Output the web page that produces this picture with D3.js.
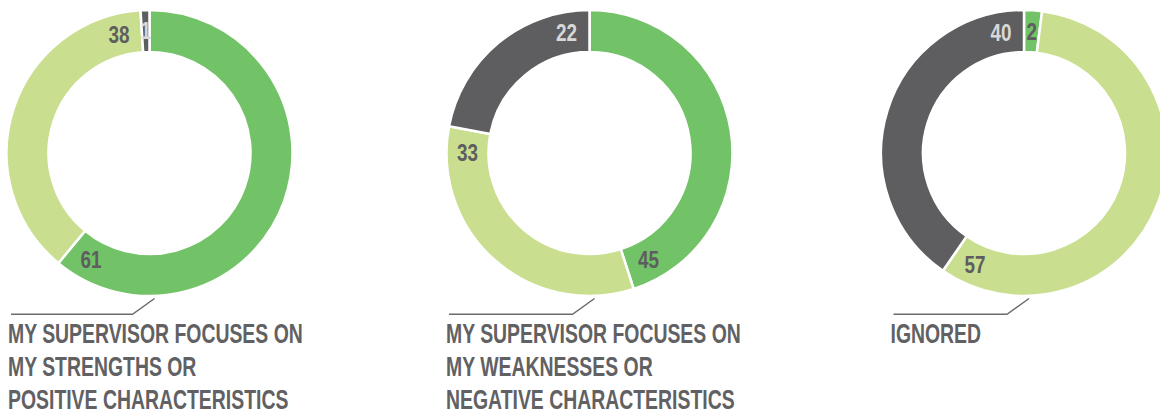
<!DOCTYPE html>
<html>
<head>
<meta charset="utf-8">
<script src="https://cdn.jsdelivr.net/npm/d3@7"></script>
<style>
  html, body { margin: 0; padding: 0; background: #fff; }
  svg { display: block; }
  text { font-family: "Liberation Sans", Arial, sans-serif; font-weight: bold; }
</style>
</head>
<body>
<svg width="1160" height="411"></svg>
<script>
// data
const categories = ['Strengths', 'Neutral', 'Weaknesses'];
const colors = ['#72c267', '#c9df8f', '#5e5e60'];
const strengthsValues = [61, 38, 1];
const weaknessesValues = [45, 33, 22];
const ignoredValues = [2, 57, 40];
const titles = [
  ['MY SUPERVISOR FOCUSES ON', 'MY STRENGTHS OR', 'POSITIVE CHARACTERISTICS'],
  ['MY SUPERVISOR FOCUSES ON', 'MY WEAKNESSES OR', 'NEGATIVE CHARACTERISTICS'],
  ['IGNORED']
];

const svg = d3.select('svg');
const panels = [
  { values: strengthsValues, title: titles[0], cx: 149.5, tx: 8 },
  { values: weaknessesValues, title: titles[1], cx: 589.5, tx: 446 },
  { values: ignoredValues, title: titles[2], cx: 1024, tx: 890.5 }
];
const cy = 153;
const outerR = 143;
const innerR = 101;
const labelR = 122;

const pie = d3.pie().sort(null).value((d) => d);
const arc = d3.arc().innerRadius(innerR).outerRadius(outerR);

// squash a regular bold face into a condensed look
function squeeze(str, size, target) {
  const probe = svg.append('text').attr('font-size', size).text(str);
  const w = probe.node().getComputedTextLength();
  probe.remove();
  return target / w;
}
const sx = squeeze(titles[0][0], 27, 295);
const lx = squeeze('38', 23, 21);

panels.forEach((p) => {
  const g = svg.append('g').attr('transform', `translate(${p.cx},${cy})`);
  const arcs = pie(p.values);

  g.selectAll('path')
    .data(arcs)
    .join('path')
    .attr('d', arc)
    .attr('fill', (d, i) => colors[i])
    .attr('stroke', '#fff')
    .attr('stroke-width', 2.5);

  g.selectAll('text')
    .data(arcs)
    .join('text')
    .attr('transform', (d) => {
      const a = d.endAngle - d.startAngle > 0.35 ? d.endAngle - 0.19 : (d.startAngle + d.endAngle) / 2;
      const x = labelR * Math.sin(a);
      const y = -labelR * Math.cos(a);
      return `translate(${x},${y}) scale(${lx},1)`;
    })
    .attr('text-anchor', 'middle')
    .attr('dy', '0.36em')
    .attr('font-size', 23)
    .attr('fill', (d, i) => (i === 2 ? '#d8d8d8' : '#5e5e60'))
    .text((d) => d.data);

  // leader line
  svg.append('path')
    .attr('d', d3.line()([[p.tx + 3, 314.3], [p.cx - 17, 314.3], [p.cx + 5, 298.5]]))
    .attr('fill', 'none')
    .attr('stroke', '#6b6b6b')
    .attr('stroke-width', 1.5);

  p.title.forEach((line, i) => {
    svg.append('text')
      .attr('transform', `translate(${p.tx},${342.5 + i * 33})scale(${sx},1)`)
      .attr('font-size', 27)
      .attr('fill', '#616163')
      .text(line);
  });
});
</script>
</body>
</html>
